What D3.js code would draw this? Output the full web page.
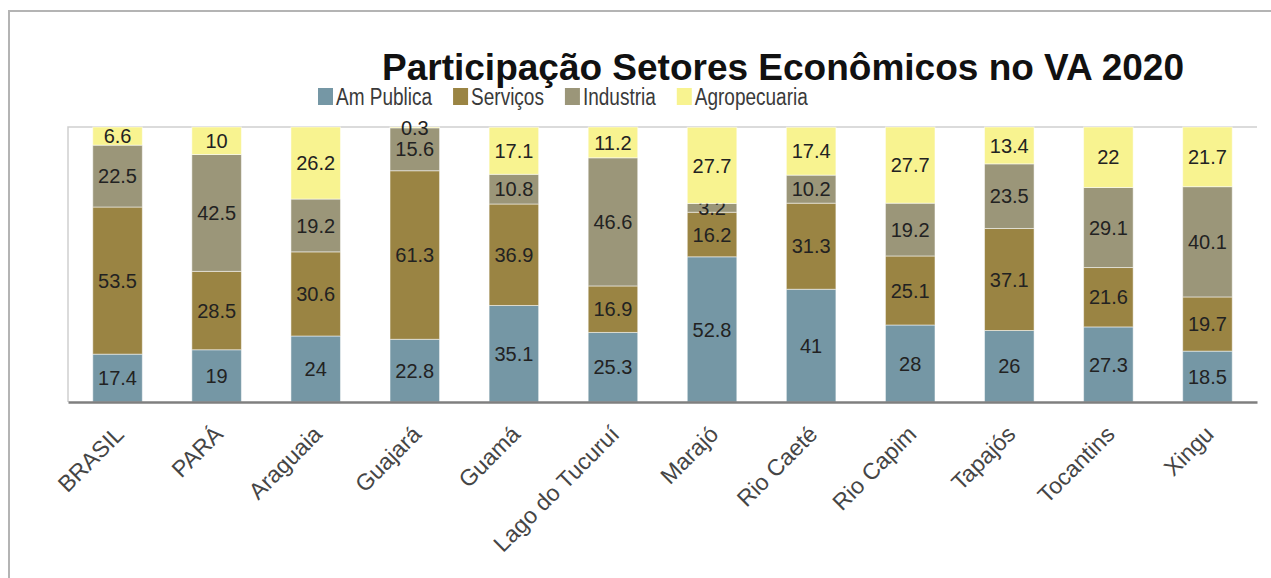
<!DOCTYPE html>
<html>
<head>
<meta charset="utf-8">
<script src="https://cdn.jsdelivr.net/npm/d3@7"></script>
<style>
  body { margin: 0; background: #fff; }
  text { font-family: "Liberation Sans", Arial, sans-serif; }
</style>
</head>
<body>
<script>
//Width and height
var w = 1271;
var h = 578;

//Data
var categories = ["BRASIL", "PARÁ", "Araguaia", "Guajará", "Guamá", "Lago do Tucuruí",
                  "Marajó", "Rio Caeté", "Rio Capim", "Tapajós", "Tocantins", "Xingu"];
var seriesNames = ["Am Publica", "Serviços", "Industria", "Agropecuaria"];
var amPublica   = [17.4, 19, 24, 22.8, 35.1, 25.3, 52.8, 41, 28, 26, 27.3, 18.5];
var servicos    = [53.5, 28.5, 30.6, 61.3, 36.9, 16.9, 16.2, 31.3, 25.1, 37.1, 21.6, 19.7];
var industria   = [22.5, 42.5, 19.2, 15.6, 10.8, 46.6, 3.2, 10.2, 19.2, 23.5, 29.1, 40.1];
var agro        = [6.6, 10, 26.2, 0.3, 17.1, 11.2, 27.7, 17.4, 27.7, 13.4, 22, 21.7];
var colors = ["#7597a5", "#9a8443", "#9b9679", "#f8f390"];

var rows = categories.map(function(c, i) {
    return { cat: c, "Am Publica": amPublica[i], "Serviços": servicos[i],
             "Industria": industria[i], "Agropecuaria": agro[i] };
});
var stacked = d3.stack().keys(seriesNames)(rows);

//Plot area
var plotLeft = 68, plotRight = 1257, plotTop = 127, plotBottom = 402;

var xScale = d3.scaleBand()
    .domain(categories)
    .range([plotLeft, plotRight])
    .paddingInner(0.5)
    .paddingOuter(0.25);

var yScale = d3.scaleLinear()
    .domain([0, 100])
    .range([plotBottom, plotTop]);

var color = d3.scaleOrdinal().domain(seriesNames).range(colors);

var svg = d3.select("body")
    .append("svg")
    .attr("width", w)
    .attr("height", h);

// outer frame
svg.append("path")
    .attr("d", "M9," + h + "V11H" + w)
    .attr("fill", "none")
    .attr("stroke", "#b4b4b4")
    .attr("stroke-width", 2);

// plot frame (top + left)
svg.append("path")
    .attr("d", "M" + plotLeft + "," + plotBottom + "V" + plotTop + "H" + plotRight)
    .attr("fill", "none")
    .attr("stroke", "#cfcfcf")
    .attr("stroke-width", 1.5);

// bars
var layers = svg.selectAll("g.layer")
    .data(stacked)
    .enter()
    .append("g")
    .attr("class", "layer")
    .attr("fill", function(d) { return color(d.key); });

layers.selectAll("rect")
    .data(function(d) { return d; })
    .enter()
    .append("rect")
    .attr("x", function(d) { return xScale(d.data.cat); })
    .attr("y", function(d) { return yScale(d[1]); })
    .attr("width", xScale.bandwidth())
    .attr("height", function(d) { return yScale(d[0]) - yScale(d[1]); })
    .attr("stroke", "rgba(255,255,255,0.5)")
    .attr("stroke-width", 1);

// value labels
layers.selectAll("text")
    .data(function(d) { return d; })
    .enter()
    .append("text")
    .attr("x", function(d) { return xScale(d.data.cat) + xScale.bandwidth() / 2; })
    .attr("y", function(d) { return (yScale(d[0]) + yScale(d[1])) / 2; })
    .attr("dy", "0.36em")
    .attr("text-anchor", "middle")
    .attr("font-size", "20px")
    .attr("fill", "#222")
    .text(function(d) { return +(d[1] - d[0]).toFixed(1); });

// x axis
var xAxis = d3.axisBottom(xScale).tickSize(0).tickSizeOuter(0);
var gx = svg.append("g")
    .attr("transform", "translate(0," + plotBottom + ")")
    .call(xAxis);
gx.select(".domain")
    .attr("stroke", "#7f7f7f")
    .attr("stroke-width", 2.5);
gx.selectAll(".tick text")
    .attr("font-size", "23px")
    .attr("font-family", "Liberation Sans, Arial, sans-serif")
    .attr("fill", "#454545")
    .attr("text-anchor", "end")
    .attr("x", 0)
    .attr("y", 0)
    .attr("dy", "0.35em")
    .attr("transform", "translate(2,28) rotate(-45)");

// title
svg.append("text")
    .attr("x", 783)
    .attr("y", 80)
    .attr("text-anchor", "middle")
    .attr("font-size", "37px")
    .attr("font-weight", "bold")
    .attr("fill", "#111")
    .text("Participação Setores Econômicos no VA 2020");

// legend
var legend = svg.append("g");
var lx = 318;
seriesNames.forEach(function(name) {
    var item = legend.append("g").attr("transform", "translate(" + lx + ",0)");
    item.append("rect")
        .attr("x", 0).attr("y", 88)
        .attr("width", 15).attr("height", 17)
        .attr("fill", color(name));
    var t = item.append("text")
        .attr("transform", "translate(18,105) scale(1,1.25)")
        .attr("font-size", "19px")
        .attr("fill", "#3a3a3a")
        .text(name);
    lx += 18 + t.node().getComputedTextLength() + 21;
});
</script>
</body>
</html>
